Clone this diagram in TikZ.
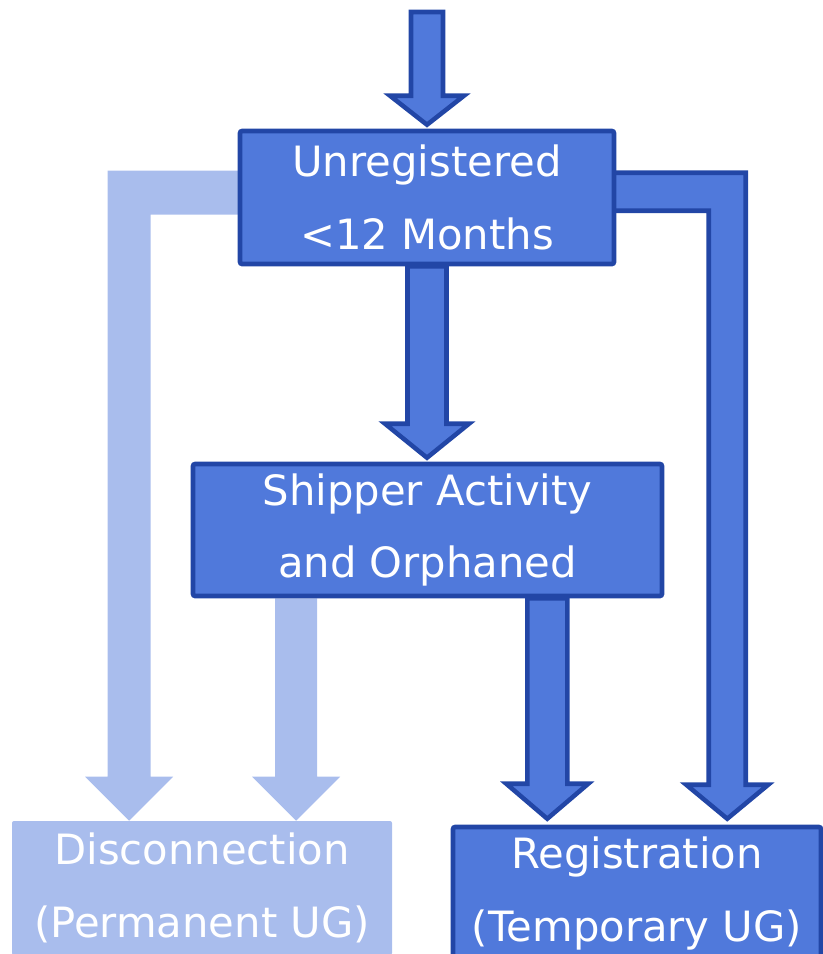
\documentclass[tikz,border=0pt]{standalone}
\usepackage{fontspec}
\setmainfont{DejaVu Sans}
\usetikzlibrary{calc}
\pgfdeclarelayer{bg}
\pgfsetlayers{bg,main}
\definecolor{dfill}{HTML}{5079DB}
\definecolor{dline}{HTML}{2246A6}
\definecolor{lfill}{HTML}{A9BDED}
% block arrow pointing down: style, top point, tip point, shaft half width, head half width, head length
\newcommand\blockarr[6]{%
  \path[#1] ($(#2)+(-#4,0)$) -- ($(#3)+(-#4,-#6)$) -- ($(#3)+(-#5,-#6)$) -- (#3)
    -- ($(#3)+(#5,-#6)$) -- ($(#3)+(#4,-#6)$) -- ($(#2)+(#4,0)$) -- cycle;}
\begin{document}
\begin{tikzpicture}[x=0.75pt,y=-0.75pt,
  txt/.style={font=\fontsize{31.3}{54.5}\selectfont, text=white, align=center, inner sep=0pt},
  dbox/.style={txt, draw=dline, fill=dfill, line width=3.4pt, rounded corners=1.5pt},
  lbox/.style={txt, fill=lfill, rounded corners=1.5pt},
  darr/.style={draw=dline, fill=dfill, line width=3.4pt, line join=miter},
  larr/.style={fill=lfill}]
\useasboundingbox (0,0) rectangle (823,954);
\clip (0,0) rectangle (823,954);

\node[dbox, minimum width=280.5pt, minimum height=99.75pt] (unreg) at (427,197.5) {Unregistered\\<12 Months};
\node[dbox, minimum width=351.75pt, minimum height=99pt] (ship) at (427.5,530) {Shipper Activity\\and Orphaned};
\node[lbox, minimum width=285pt, minimum height=100.5pt] (disc) at (202,888) {Disconnection\\(Permanent UG)};
\node[dbox, minimum width=276pt, minimum height=99.75pt] (reg) at (637,893.5) {Registration\\(Temporary UG)};

\begin{pgfonlayer}{bg}
  % incoming arrow
  \coordinate (topstart) at (427,12);
  \coordinate (toptip) at ($(unreg.north)+(0,-4)$);
  \blockarr{darr}{topstart}{toptip}{16}{37}{29}
  % unregistered -> shipper
  \coordinate (m1) at (unreg.south);
  \coordinate (m2) at ($(unreg.south |- ship.north)+(0,-4)$);
  \blockarr{darr}{m1}{m2}{19.5}{42}{34}
  % shipper -> registration
  \coordinate (r1) at ($(ship.south east)+(-117,0)$);
  \coordinate (r2) at ($(r1 |- reg.north)+(0,-6)$);
  \blockarr{darr}{r1}{r2}{20}{41}{35}
  % shipper -> disconnection
  \coordinate (l1) at ($(ship.south west)+(105.5,0)$);
  \coordinate (l2) at (l1 |- disc.north);
  \blockarr{larr}{l1}{l2}{21}{44}{44}
  % unregistered -> registration (L-shaped)
  \coordinate (e1) at ($(unreg.north east)+(-4,44)$);
  \coordinate (e2) at ($(unreg.north east)+(-4,82)$);
  \coordinate (rtip) at ($(reg.north west)+(276.5,-6)$);
  \path[darr] (e1) -- ($(e1 -| rtip)+(18.5,0)$) -- ($(rtip)+(18.5,-34)$) -- ($(rtip)+(41,-34)$)
    -- (rtip) -- ($(rtip)+(-41,-34)$) -- ($(rtip)+(-18.5,-34)$) -- ($(e2 -| rtip)+(-18.5,0)$)
    -- (e2) -- cycle;
  % unregistered -> disconnection (L-shaped)
  \coordinate (w1) at ($(unreg.north west)+(4,42)$);
  \coordinate (w2) at ($(unreg.north west)+(4,86)$);
  \coordinate (ltip) at ($(disc.north west)+(117.5,0)$);
  \path[larr] (w1) -- ($(w1 -| ltip)+(-21.5,0)$) -- ($(ltip)+(-21.5,-44)$) -- ($(ltip)+(-44,-44)$)
    -- (ltip) -- ($(ltip)+(44,-44)$) -- ($(ltip)+(21.5,-44)$) -- ($(w2 -| ltip)+(21.5,0)$)
    -- (w2) -- cycle;
\end{pgfonlayer}
\end{tikzpicture}
\end{document}
